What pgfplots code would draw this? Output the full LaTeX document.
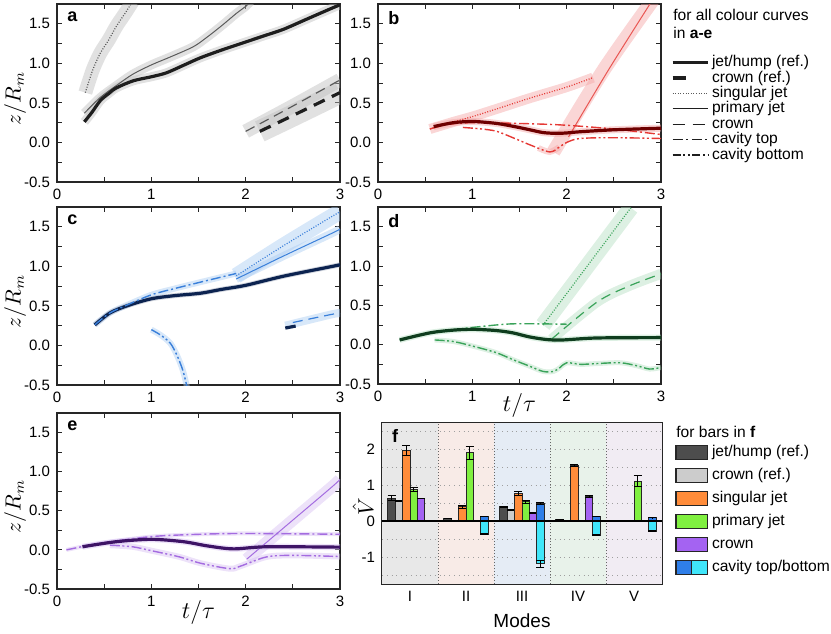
\documentclass[border=0pt]{standalone}
\usepackage{fontspec}
\setmainfont{Liberation Sans}
\usepackage{pgfplots}
\pgfplotsset{compat=1.18}

% curve colours, one family per panel
\definecolor{aref}{HTML}{1E1E1E}
\definecolor{aln}{HTML}{5A5A5A}
\definecolor{aband}{HTML}{BDBDBD}
\definecolor{bref}{HTML}{6E0000}
\definecolor{bln}{HTML}{E53935}
\definecolor{bband}{HTML}{F4A3A3}
\definecolor{cref}{HTML}{0C2350}
\definecolor{cln}{HTML}{3A80DA}
\definecolor{cband}{HTML}{A9CBF2}
\definecolor{dref}{HTML}{0F3D1E}
\definecolor{dln}{HTML}{3AA35A}
\definecolor{dband}{HTML}{B3DEC0}
\definecolor{eref}{HTML}{3E1466}
\definecolor{eln}{HTML}{A46CE0}
\definecolor{eband}{HTML}{D6BFF2}
% bar colours
\definecolor{bdark}{HTML}{4D4D4D}
\definecolor{blight}{HTML}{CCCCCC}
\definecolor{borange}{HTML}{FF8C3A}
\definecolor{bgreen}{HTML}{80F040}
\definecolor{bpurple}{HTML}{A463F2}
\definecolor{bblue}{HTML}{2F7EE8}
\definecolor{bcyan}{HTML}{40E6FA}
% mode backgrounds
\definecolor{m1}{HTML}{E8E8E8}
\definecolor{m2}{HTML}{F8EBE7}
\definecolor{m3}{HTML}{E5ECF5}
\definecolor{m4}{HTML}{E8F2EA}
\definecolor{m5}{HTML}{F1ECF3}

\tikzset{plabel/.style={anchor=north west, inner sep=0pt, font=\bfseries\fontsize{9}{9}\selectfont}}

\pgfplotsset{
  panel/.style={
    scale only axis, width=141.5pt, height=89pt, anchor=north west,
    xmin=0, xmax=3, ymin=-0.5, ymax=1.75,
    xtick={0,1,2,3}, minor xtick={0.5,1.5,2.5},
    ytick={-0.5,0,0.5,1,1.5}, minor ytick={-0.25,0.25,0.75,1.25},
    tick align=inside, major tick length=2.5pt, minor tick length=2.5pt,
    axis line style={line width=0.6pt, black!85},
    every tick/.style={black!85, line width=0.4pt},
    tick label style={font=\fontsize{7.5}{8}\selectfont},
    /pgf/number format/assume math mode=true,
    y tick label style={/pgf/number format/.cd, fixed, fixed zerofill, precision=1, /tikz/.cd},
    ylabel style={at={(axis description cs:-0.148,0.47)}, anchor=center, font=\fontsize{10.5}{12}\selectfont},
    xlabel style={font=\fontsize{12}{14}\selectfont},
  },
  refl/.style={line width=1.6pt, smooth},
  thin/.style={line width=0.5pt, smooth},
  band/.style={line width=#1, draw opacity=0.45, smooth},
  sg/.style={line width=0.6pt, smooth, dash pattern=on 0.5pt off 0.8pt},
  cr/.style={line width=0.6pt, smooth, dash pattern=on 5pt off 3pt},
  crref/.style={line width=1.6pt, smooth, dash pattern=on 6pt off 4pt},
  ct/.style={line width=0.7pt, smooth, dash pattern=on 5pt off 1.5pt on 1pt off 1.5pt},
  cb/.style={line width=0.7pt, smooth, dash pattern=on 5pt off 1.3pt on 1pt off 1.3pt on 1pt off 1.3pt},
  vbar/.style={ybar, bar width=0.131, bar shift=0, draw=black!85, line width=0.5pt,
    error bars/y dir=both, error bars/y explicit,
    error bars/error bar style={black, line width=0.5pt},
    error bars/error mark options={rotate=90, black, mark size=2pt, line width=0.5pt}},
  hgrid/.style={dotted, gray!75, line width=0.4pt},
}

\begin{document}
\begin{tikzpicture}
\path[use as bounding box] (0,0) rectangle (415.5pt,-316.5pt);

% ---------------- a ----------------
\begin{axis}[panel, at={(28.5pt,-2pt)}, ylabel={$z/R_m$}]
\addplot[band=4.5pt, aband] coordinates {(0.29,0.26) (0.37,0.38) (0.46,0.53) (0.55,0.62) (0.63,0.69) (0.81,0.78) (1.0,0.83) (1.16,0.88) (1.35,0.98) (1.52,1.07) (1.75,1.17) (2.0,1.27) (2.2,1.35) (2.4,1.43) (2.65,1.56) (2.9,1.69) (3.0,1.74)};
\addplot[band=4.5pt, aband] coordinates {(0.29,0.37) (0.46,0.57) (0.63,0.72) (0.8,0.86) (1.0,0.98) (1.2,1.08) (1.445,1.21) (1.59,1.33) (1.75,1.48) (1.9,1.63) (2.0,1.72) (2.05,1.78)};
\addplot[band=7pt, aband] coordinates {(0.3,0.63) (0.38,0.92) (0.46,1.13) (0.55,1.3) (0.63,1.47) (0.72,1.63) (0.8,1.78)};
\addplot[band=7pt, aband] coordinates {(2.0,0.14) (2.5,0.46) (3.0,0.79)};
\addplot[band=11pt, aband] coordinates {(2.15,0.14) (2.5,0.34) (3.0,0.63)};
\addplot[sg, aln] coordinates {(0.3,0.63) (0.38,0.92) (0.46,1.13) (0.55,1.3) (0.63,1.47) (0.72,1.63) (0.8,1.78)};
\addplot[thin, aln] coordinates {(0.29,0.37) (0.46,0.57) (0.63,0.72) (0.8,0.86) (1.0,0.98) (1.2,1.08) (1.445,1.21) (1.59,1.33) (1.75,1.48) (1.9,1.63) (2.0,1.72) (2.05,1.78)};
\addplot[cr, aln] coordinates {(2.0,0.14) (2.5,0.46) (3.0,0.79)};
\addplot[crref, aref] coordinates {(2.15,0.14) (2.5,0.34) (3.0,0.63)};
\addplot[refl, aref] coordinates {(0.29,0.26) (0.37,0.38) (0.46,0.53) (0.55,0.62) (0.63,0.69) (0.81,0.78) (1.0,0.83) (1.16,0.88) (1.35,0.98) (1.52,1.07) (1.75,1.17) (2.0,1.27) (2.2,1.35) (2.4,1.43) (2.65,1.56) (2.9,1.69) (3.0,1.74)};
\node[plabel] at (rel axis cs:0.035,0.96) {a};
\end{axis}

% ---------------- b ----------------
\begin{axis}[panel, at={(189pt,-2pt)}]
\addplot[band=3.5pt, bband] coordinates {(0.59,0.2) (0.8,0.25) (1.01,0.265) (1.26,0.24) (1.45,0.2) (1.61,0.16) (1.75,0.125) (1.89,0.115) (2.0,0.12) (2.14,0.135) (2.5,0.16) (3.0,0.18)};
\addplot[band=5pt, bband] coordinates {(0.55,0.17) (0.8,0.26) (1.01,0.33) (1.3,0.44) (1.61,0.56) (2.0,0.7) (2.28,0.82)};
\addplot[band=7pt, bband] coordinates {(1.86,-0.12) (2.4,0.93) (2.95,1.86)};
\addplot[band=3pt, bband] coordinates {(1.7,-0.07) (1.82,-0.12) (1.92,-0.06)};
\addplot[sg, bln] coordinates {(0.55,0.17) (0.8,0.26) (1.01,0.33) (1.3,0.44) (1.61,0.56) (2.0,0.7) (2.28,0.82)};
\addplot[thin, bln!85] coordinates {(2.02,0.07) (2.45,0.93) (2.92,1.82)};
\addplot[ct, bln] coordinates {(0.55,0.17) (0.75,0.23) (1.01,0.25) (1.5,0.24) (1.96,0.22) (2.5,0.17) (3.0,0.1)};
\addplot[cb, bln] coordinates {(0.9,0.19) (1.1,0.17) (1.26,0.14) (1.45,0.05) (1.61,-0.03) (1.82,-0.12) (1.92,-0.06) (2.0,0.0) (2.14,0.05) (2.5,0.06) (3.0,0.05)};
\addplot[refl, bref] coordinates {(0.59,0.2) (0.8,0.25) (1.01,0.265) (1.26,0.24) (1.45,0.2) (1.61,0.16) (1.75,0.125) (1.89,0.115) (2.0,0.12) (2.14,0.135) (2.5,0.16) (3.0,0.18)};
\node[plabel] at (rel axis cs:0.035,0.96) {b};
\end{axis}

% ---------------- c ----------------
\begin{axis}[panel, at={(28.5pt,-103.5pt)}, ylabel={$z/R_m$}]
\addplot[band=3pt, cband] coordinates {(0.4,0.26) (0.56,0.41) (0.74,0.51) (1.0,0.64) (1.25,0.72) (1.52,0.80) (1.9,0.91)};
\addplot[band=8pt, cband] coordinates {(1.9,0.88) (2.4,1.26) (2.9,1.62) (3.0,1.69)};
\addplot[band=4pt, cband] coordinates {(1.9,0.84) (2.4,1.13) (2.9,1.41) (3.0,1.47)};
\addplot[band=4pt, cband] coordinates {(2.42,0.25) (2.9,0.39) (3.0,0.41)};
\addplot[band=3pt, cband] coordinates {(1.0,0.2) (1.1,0.13) (1.2,0.03) (1.27,-0.12) (1.33,-0.3) (1.37,-0.48) (1.38,-0.55)};
\addplot[band=2.5pt, cref!40] coordinates {(0.4,0.26) (0.56,0.41) (0.74,0.50) (1.0,0.59) (1.25,0.63) (1.52,0.66) (1.75,0.71) (2.0,0.76) (2.4,0.875) (2.9,0.995) (3.0,1.02)};
\addplot[sg, cln] coordinates {(1.9,0.88) (2.4,1.26) (2.9,1.62) (3.0,1.69)};
\addplot[thin, cln] coordinates {(1.9,0.84) (2.4,1.13) (2.9,1.41) (3.0,1.47)};
\addplot[cr, cln] coordinates {(2.5,0.29) (2.9,0.39) (3.0,0.41)};
\addplot[crref, cref] coordinates {(2.42,0.22) (2.53,0.245)};
\addplot[cb, cln] coordinates {(1.0,0.2) (1.1,0.13) (1.2,0.03) (1.27,-0.12) (1.33,-0.3) (1.37,-0.48) (1.38,-0.55)};
\addplot[refl, cref] coordinates {(0.4,0.26) (0.56,0.41) (0.74,0.50) (1.0,0.59) (1.25,0.63) (1.52,0.66) (1.75,0.71) (2.0,0.76) (2.4,0.875) (2.9,0.995) (3.0,1.02)};
\addplot[ct, cln] coordinates {(0.4,0.26) (0.56,0.41) (0.74,0.51) (1.0,0.64) (1.25,0.72) (1.52,0.80) (1.9,0.91)};
\node[plabel] at (rel axis cs:0.035,0.96) {c};
\end{axis}

% ---------------- d ----------------
\begin{axis}[panel, at={(189pt,-103.5pt)}, height=88.5pt, xlabel={$t/\tau$},
  xlabel style={at={(axis description cs:0.5,-0.12)}, anchor=center}]
\addplot[band=3pt, dband] coordinates {(0.23,0.06) (0.55,0.15) (0.8,0.185) (1.01,0.195) (1.25,0.18) (1.43,0.15) (1.6,0.10) (1.79,0.065) (1.96,0.06) (2.32,0.085) (3.0,0.09)};
\addplot[band=8pt, dband] coordinates {(1.75,0.25) (2.2,0.97) (2.68,1.74)};
\addplot[band=5pt, dband] coordinates {(1.84,0.07) (2.32,0.54) (2.65,0.74) (3.0,0.90)};
\addplot[band=2.5pt, dband] coordinates {(0.6,0.06) (0.8,0.04) (1.01,-0.02) (1.25,-0.1) (1.43,-0.19) (1.6,-0.27) (1.75,-0.34) (1.86,-0.34) (1.93,-0.29) (2.0,-0.23) (2.15,-0.25) (2.32,-0.24) (2.57,-0.23) (2.75,-0.27) (2.88,-0.31) (3.0,-0.29)};
\addplot[sg, dln] coordinates {(1.75,0.25) (2.2,0.97) (2.68,1.74)};
\addplot[cr, dln] coordinates {(1.84,0.07) (2.32,0.54) (2.65,0.74) (3.0,0.90)};
\addplot[ct, dln] coordinates {(0.23,0.06) (0.55,0.15) (0.8,0.19) (1.01,0.22) (1.25,0.25) (1.43,0.265) (1.7,0.265) (2.0,0.26)};
\addplot[cb, dln] coordinates {(0.6,0.06) (0.8,0.04) (1.01,-0.02) (1.25,-0.1) (1.43,-0.19) (1.6,-0.27) (1.75,-0.34) (1.86,-0.34) (1.93,-0.29) (2.0,-0.23) (2.15,-0.25) (2.32,-0.24) (2.57,-0.23) (2.75,-0.27) (2.88,-0.31) (3.0,-0.29)};
\addplot[refl, dref] coordinates {(0.23,0.06) (0.55,0.15) (0.8,0.185) (1.01,0.195) (1.25,0.18) (1.43,0.15) (1.6,0.10) (1.79,0.065) (1.96,0.06) (2.32,0.085) (3.0,0.09)};
\node[plabel] at (rel axis cs:0.035,0.96) {d};
\end{axis}

% ---------------- e ----------------
\begin{axis}[panel, at={(28.5pt,-206.5pt)}, height=88pt, ylabel={$z/R_m$}, xlabel={$t/\tau$},
  xlabel style={at={(axis description cs:0.5,-0.136)}, anchor=center}]
\addplot[band=3pt, eband] coordinates {(0.27,0.04) (0.63,0.105) (1.0,0.135) (1.34,0.105) (1.6,0.05) (1.87,0.013) (2.22,0.04) (3.0,0.035)};
\addplot[band=6pt, eband] coordinates {(2.01,-0.12) (2.45,0.33) (2.9,0.79) (3.0,0.9)};
\addplot[band=3pt, eband] coordinates {(0.56,0.06) (0.8,0.04) (1.0,-0.01) (1.3,-0.09) (1.52,-0.17) (1.83,-0.24) (1.94,-0.21) (2.22,-0.09) (2.5,-0.07) (3.0,-0.085)};
\addplot[band=2pt, eband] coordinates {(0.1,0.0) (0.46,0.085) (1.0,0.17) (1.52,0.2) (2.0,0.21) (3.0,0.2)};
\addplot[thin, eln] coordinates {(2.01,-0.12) (2.45,0.33) (2.9,0.79) (3.0,0.9)};
\addplot[ct, eln] coordinates {(0.1,0.0) (0.46,0.085) (1.0,0.17) (1.52,0.2) (2.0,0.21) (3.0,0.2)};
\addplot[cb, eln] coordinates {(0.56,0.06) (0.8,0.04) (1.0,-0.01) (1.3,-0.09) (1.52,-0.17) (1.83,-0.24) (1.94,-0.21) (2.22,-0.09) (2.5,-0.07) (3.0,-0.085)};
\addplot[refl, eref] coordinates {(0.27,0.04) (0.63,0.105) (1.0,0.135) (1.34,0.105) (1.6,0.05) (1.87,0.013) (2.22,0.04) (3.0,0.035)};
\node[plabel] at (rel axis cs:0.035,0.96) {e};
\end{axis}

% ---------------- f ----------------
\begin{axis}[at={(191pt,-211.5pt)}, anchor=north west, scale only axis, width=140pt, height=80.5pt,
  xmin=0, xmax=5, ymin=-1.75, ymax=2.72,
  xtick={0.5,1.5,2.5,3.5,4.5}, xticklabels={I,II,III,IV,V},
  x tick style={draw=none},
  ytick={-1,0,1,2}, minor ytick={-1.5,-0.5,0.5,1.5,2.5},
  tick align=inside, major tick length=2.5pt, minor tick length=2.5pt,
  axis line style={line width=0.6pt, black!85},
  every tick/.style={black!85, line width=0.4pt},
  tick label style={font=\fontsize{7.5}{8}\selectfont},
  /pgf/number format/assume math mode=true,
  ylabel={$\hat{V}$}, xlabel={Modes},
  ylabel style={at={(axis description cs:-0.068,0.48)}, anchor=center, font=\fontsize{10.5}{12}\selectfont},
  xlabel style={at={(axis description cs:0.5,-0.225)}, anchor=center, font=\fontsize{9.5}{11}\selectfont},
]
\addplot[draw=none, fill=m1] coordinates {(0,-1.75) (1,-1.75) (1,2.72) (0,2.72)};
\addplot[draw=none, fill=m2] coordinates {(1,-1.75) (2,-1.75) (2,2.72) (1,2.72)};
\addplot[draw=none, fill=m3] coordinates {(2,-1.75) (3,-1.75) (3,2.72) (2,2.72)};
\addplot[draw=none, fill=m4] coordinates {(3,-1.75) (4,-1.75) (4,2.72) (3,2.72)};
\addplot[draw=none, fill=m5] coordinates {(4,-1.75) (5,-1.75) (5,2.72) (4,2.72)};
\addplot[hgrid] coordinates {(0,-1.5) (5,-1.5)};
\addplot[hgrid] coordinates {(0,-1) (5,-1)};
\addplot[hgrid] coordinates {(0,-0.5) (5,-0.5)};
\addplot[hgrid] coordinates {(0,0.5) (5,0.5)};
\addplot[hgrid] coordinates {(0,1) (5,1)};
\addplot[hgrid] coordinates {(0,1.5) (5,1.5)};
\addplot[hgrid] coordinates {(0,2) (5,2)};
\addplot[hgrid] coordinates {(0,2.5) (5,2.5)};
\addplot[densely dotted, black!60, line width=0.5pt] coordinates {(1,-1.75) (1,2.72)};
\addplot[densely dotted, black!60, line width=0.5pt] coordinates {(2,-1.75) (2,2.72)};
\addplot[densely dotted, black!60, line width=0.5pt] coordinates {(3,-1.75) (3,2.72)};
\addplot[densely dotted, black!60, line width=0.5pt] coordinates {(4,-1.75) (4,2.72)};
% bars at their slot centres within each mode
\addplot[vbar, fill=bdark] coordinates {(0.1725,0.63) +- (0,0.07) (1.1725,0.07) +- (0,0.01) (2.1725,0.39) +- (0,0.02) (3.1725,0.03) +- (0,0.005) (4.1725,0.01) +- (0,0.002)};
\addplot[vbar, fill=blight] coordinates {(0.3035,0.55) +- (0,0.02) (2.3035,0.30) +- (0,0.01)};
\addplot[vbar, fill=borange] coordinates {(0.4345,1.96) +- (0,0.14) (1.4345,0.39) +- (0,0.03) (2.4345,0.76) +- (0,0.06) (3.4345,1.54) +- (0,0.03)};
\addplot[vbar, fill=bgreen] coordinates {(0.5655,0.87) +- (0,0.06) (1.5655,1.89) +- (0,0.19) (2.5655,0.53) +- (0,0.04) (4.5655,1.10) +- (0,0.15)};
\addplot[vbar, fill=bpurple] coordinates {(0.6965,0.63) +- (0,0.005) (2.6965,0.22) +- (0,0.005) (3.6965,0.69) +- (0,0.03)};
\addplot[vbar, fill=bblue] coordinates {(1.8275,0.13) +- (0,0.005) (2.8275,0.48) +- (0,0.02) (3.8275,0.13) +- (0,0.005) (4.8275,0.09) +- (0,0.005)};
\addplot[vbar, fill=bcyan] coordinates {(1.8275,-0.37) +- (0,0.01) (2.8275,-1.19) +- (0,0.1) (3.8275,-0.39) +- (0,0.01) (4.8275,-0.28) +- (0,0.01)};
\addplot[black, line width=0.6pt] coordinates {(0,0) (5,0)};
\node[plabel] at (rel axis cs:0.035,0.965) {f};
\end{axis}

% ---------------- legends ----------------
\begin{scope}[font=\fontsize{7.8}{9}\selectfont]
\node[anchor=west, inner sep=0pt] at (336.5pt,-7.5pt) {for all colour curves};
\node[anchor=west, inner sep=0pt] at (336.5pt,-16.7pt) {in \textbf{a-e}};
\draw[line width=1.6pt, aref] (336.3pt,-31.3pt) -- (354.2pt,-31.3pt);
\node[anchor=west, inner sep=0pt] at (355.8pt,-31.3pt) {jet/hump (ref.)};
\draw[line width=1.6pt, aref] (336.3pt,-39pt) -- (343pt,-39pt);
\node[anchor=west, inner sep=0pt] at (355.8pt,-39pt) {crown (ref.)};
\draw[line width=0.6pt, aln, dash pattern=on 0.5pt off 0.8pt] (336.3pt,-46.7pt) -- (354.2pt,-46.7pt);
\node[anchor=west, inner sep=0pt] at (355.8pt,-46.7pt) {singular jet};
\draw[line width=0.6pt, aref] (336.3pt,-54.4pt) -- (354.2pt,-54.4pt);
\node[anchor=west, inner sep=0pt] at (355.8pt,-54.4pt) {primary jet};
\draw[line width=0.6pt, aref, dash pattern=on 6pt off 4pt] (336.3pt,-62.1pt) -- (354.2pt,-62.1pt);
\node[anchor=west, inner sep=0pt] at (355.8pt,-62.1pt) {crown};
\draw[line width=0.6pt, aref, dash pattern=on 5pt off 1.8pt on 1pt off 1.8pt] (336.3pt,-69.8pt) -- (354.2pt,-69.8pt);
\node[anchor=west, inner sep=0pt] at (355.8pt,-69.8pt) {cavity top};
\draw[line width=0.6pt, aref, dash pattern=on 4pt off 1.3pt on 1pt off 1.3pt on 1pt off 1.3pt] (336.3pt,-77.5pt) -- (354.2pt,-77.5pt);
\node[anchor=west, inner sep=0pt] at (355.8pt,-77.5pt) {cavity bottom};

\node[anchor=west, inner sep=0pt] at (338pt,-215.8pt) {for bars in \textbf{f}};
\foreach \c/\t [count=\i from 0] in {bdark/{jet/hump (ref.)}, blight/{crown (ref.)}, borange/{singular jet}, bgreen/{primary jet}, bpurple/{crown}} {
  \draw[fill=\c, draw=black!85, line width=0.6pt] (338pt,-226.3pt-\i*11.45pt+3.5pt) rectangle (353.8pt,-226.3pt-\i*11.45pt-3.5pt);
  \node[anchor=west, inner sep=0pt] at (355.8pt,-226.3pt-\i*11.45pt) {\t};
}
\fill[bblue] (338pt,-280.05pt) rectangle (345.9pt,-287.05pt);
\fill[bcyan] (345.9pt,-280.05pt) rectangle (353.8pt,-287.05pt);
\draw[draw=black!85, line width=0.6pt] (338pt,-280.05pt) rectangle (353.8pt,-287.05pt);
\draw[black!85, line width=0.6pt] (345.9pt,-280.05pt) -- (345.9pt,-287.05pt);
\node[anchor=west, inner sep=0pt] at (355.8pt,-283.55pt) {cavity top/bottom};
\end{scope}
\end{tikzpicture}
\end{document}
